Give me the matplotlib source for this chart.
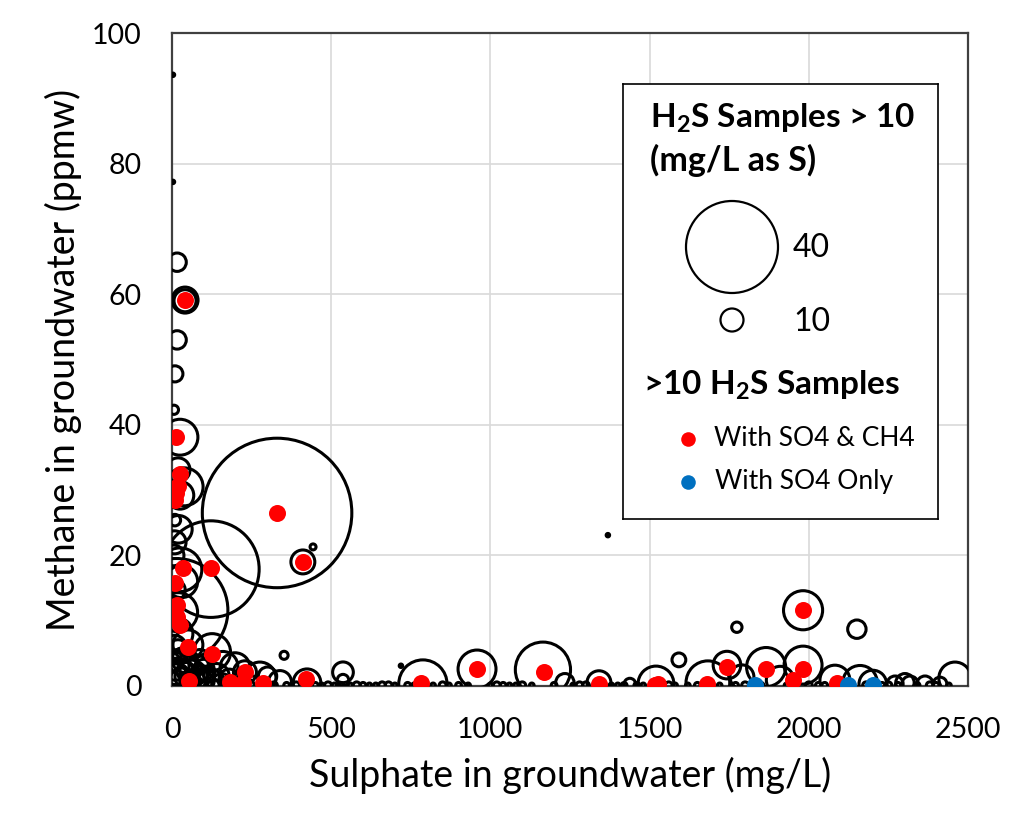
import numpy as np
import matplotlib
matplotlib.use("Agg")
import matplotlib.pyplot as plt

plt.rcParams['font.family'] = ['Lato', 'DejaVu Sans']
plt.rcParams['mathtext.fontset'] = 'custom'
plt.rcParams['mathtext.rm'] = 'Lato'
plt.rcParams['mathtext.bf'] = 'Lato:bold'

# H2S bubbles: sulphate (mg/L), methane (ppmw), H2S (mg/L as S)
so4 = [16, 41, 41, 16, 9, 6, 25, 19, 38, 25, 9, 330, 122, 13, 25, 19, 9, 50, 126, 411, 443, 352,
       72, 119, 198, 229, 276, 339, 57, 157, 251, 88, 35, 19,
       424, 537, 537, 788, 958, 1165, 1234, 1341, 1438, 1520, 1592, 1683, 1743, 1790, 1866,
       1982, 1774, 2151, 1982, 1910, 2082, 2161, 2201, 2318, 2459, 2271, 2302, 2365, 2412,
       1369, 719, 3, 3,
       5, 10, 20, 30, 8, 15, 40, 60, 90, 100, 140, 160, 5, 5, 8, 20, 30, 12, 45, 70, 110, 180, 210, 300]
ch4 = [64.9, 59.1, 59.0, 53.0, 47.8, 42.3, 38.1, 33.1, 30.5, 29.2, 25.4, 26.5, 17.9, 11.6, 17.8, 11.3, 14.7, 6.3, 5.2, 19.0, 21.3, 4.7,
       2.5, 0.9, 2.8, 2.1, 1.2, 0.6, 0.6, 0.3, 0.3, 4.0, 3.7, 5.5,
       0.5, 2.1, 0.9, 0.3, 2.6, 2.5, 0.5, 0.5, 0.3, 0.3, 4.0, 0.5, 3.2, 1.4, 2.9,
       11.6, 9.0, 8.7, 3.2, 0.9, 0.9, 0.5, 0.3, 0.3, 1.2, 0.3, 0.5, 0.3, 0.3,
       23.1, 3.1, 93.6, 77.2,
       1.0, 3.0, 2.0, 1.0, 6.0, 8.0, 4.0, 1.5, 1.0, 2.5, 1.5, 3.0, 12.0, 20.0, 22.0, 24.0, 16.0, 1.8, 2.2, 0.5, 1.8, 1.0, 0.4, 1.5]
h2s = [8, 11.3, 9.6, 8, 7, 4, 15.6, 10.4, 16.5, 12, 5, 65, 42, 45, 19, 17, 9, 13, 16, 10.4, 2.6, 3.5,
       13, 10, 13, 10, 14, 10, 9, 9, 7, 9, 12, 9,
       12, 9, 5, 21, 16.5, 24, 8, 10.4, 5, 15.6, 6, 19, 12, 10.4, 17,
       17, 4.5, 8, 16.5, 12, 13, 15, 12, 7, 14, 7, 8, 7, 6,
       1.5, 1.5, 1.5, 1.5,
       15, 12, 18, 10, 10, 14, 11, 14, 12, 9, 11, 13, 8, 9, 10, 12, 14, 9, 8, 10, 7, 9, 6, 8]

# low-methane samples along the bottom
so4_low = [60, 130, 170, 240, 320, 360, 390, 450, 470, 490, 510, 530, 560, 580, 600, 620, 640, 660,
           680, 700, 740, 760, 820, 850, 870, 900, 930, 1000, 1020, 1040, 1060, 1080, 1100, 1130,
           1200, 1260, 1280, 1300, 1380, 1400, 1420, 1460, 1480, 1560, 1580, 1620, 1650, 1720,
           1770, 1800, 1850, 1930, 2000, 2030, 2050, 2120, 2180, 2230, 2250, 2280, 2340, 2380,
           2400, 2440]
ch4_low = [0.1] * len(so4_low)
h2s_low = [4, 5, 4, 5, 3, 2.5, 3, 2.5, 2, 3, 2, 2.5, 2, 3, 2.5, 2, 2, 3,
           3, 2, 2.5, 2, 2, 3, 2, 2.5, 2, 2, 3, 2.5, 2, 2, 3, 2,
           2.5, 2, 3, 3, 2, 2, 2.5, 2.5, 2, 3, 2, 2, 2.5, 2,
           2.5, 3, 2.5, 2, 3, 2.5, 2.5, 2, 3, 2.5, 3, 2.5, 2.5, 3,
           2.5, 2]

# samples with SO4 & CH4
red_so4 = [41, 13, 25, 19, 13, 9, 35, 122, 9, 16, 16, 25, 50, 126, 53, 182, 229, 223, 286, 330, 411,
           421, 782, 958, 1168, 1341, 1517, 1527, 1680, 1743, 1865, 1982, 1982, 1950, 2088]
red_ch4 = [59.1, 38.1, 32.5, 30.7, 29.5, 28.5, 18.0, 18.0, 15.8, 12.4, 10.6, 9.3, 6.0, 4.9, 0.8, 0.6, 2.1, 0.5, 0.5, 26.5, 19.0,
           1.0, 0.5, 2.6, 2.2, 0.3, 0.2, 0.3, 0.3, 2.9, 2.6, 11.6, 2.6, 0.9, 0.4]
# samples with SO4 only
blue_so4 = [1831, 2123, 2201]
blue_ch4 = [0.2, 0.2, 0.2]

legend_sizes = [40, 10]

PX_PER_UNIT = 1.15  # bubble radius in pixels per mg/L H2S


def bubble_s(vals):
    d_pt = 2 * PX_PER_UNIT * np.asarray(vals, dtype=float) * 0.72
    return d_pt ** 2


fig = plt.figure(figsize=(10.15, 8.15), dpi=100)
ax = fig.add_axes([172 / 1015, 1 - 686 / 815, 796 / 1015, 653 / 815])

ax.scatter(so4 + so4_low, ch4 + ch4_low, s=bubble_s(h2s + h2s_low), facecolors='none',
           edgecolors='black', linewidths=2.2, zorder=3)
ax.scatter(red_so4, red_ch4, s=150, color='#ff0000', linewidths=0, zorder=4)
ax.scatter(blue_so4, blue_ch4, s=150, color='#0070c0', linewidths=0, zorder=4)

ax.set_xlim(0, 2500)
ax.set_ylim(0, 100)
ax.set_xticks([0, 500, 1000, 1500, 2000, 2500])
ax.set_yticks([0, 20, 40, 60, 80, 100])
ax.grid(True, color='#d9d9d9', lw=1.2, zorder=0)
ax.set_axisbelow(True)
ax.tick_params(length=0, labelsize=20.5, colors='#000000')
ax.tick_params(axis='x', pad=22)
ax.tick_params(axis='y', pad=22)
for sp in ax.spines.values():
    sp.set_color('#404040')
    sp.set_linewidth(1.6)
ax.set_xlabel('Sulphate in groundwater (mg/L)', fontsize=27, labelpad=10)
ax.set_ylabel('Methane in groundwater (ppmw)', fontsize=27, labelpad=7)

# legend box (pixel coordinates inside the box)
lax = fig.add_axes([623 / 1015, 1 - 519 / 815, 315 / 1015, 435 / 815])
lax.set_xlim(0, 315)
lax.set_ylim(435, 0)
lax.set_xticks([])
lax.set_yticks([])
lax.set_facecolor('white')
for sp in lax.spines.values():
    sp.set_color('black')
    sp.set_linewidth(1.2)
lax.set_zorder(5)

lax.text(27, 34, r'H$_{\mathbf{2}}$S Samples > 10', fontsize=24, fontweight='bold', va='center')
lax.text(27, 76, '(mg/L as S)', fontsize=24.5, fontweight='bold', va='center')
lax.scatter([109, 109], [163, 236], s=bubble_s(legend_sizes), facecolors='none',
            edgecolors='black', linewidths=1.6)
lax.text(170, 164, str(legend_sizes[0]), fontsize=23, va='center')
lax.text(170, 238, str(legend_sizes[1]), fontsize=23, va='center')
lax.text(20, 301, r'>10 H$_{\mathbf{2}}$S Samples', fontsize=24, fontweight='bold', va='center')
lax.scatter([65], [355], s=110, color='#ff0000', linewidths=0)
lax.scatter([65], [398], s=110, color='#0070c0', linewidths=0)
lax.text(91, 355, 'With SO4 & CH4', fontsize=19, va='center')
lax.text(92, 398, 'With SO4 Only', fontsize=19, va='center')

fig.savefig('out.png', dpi=100)
